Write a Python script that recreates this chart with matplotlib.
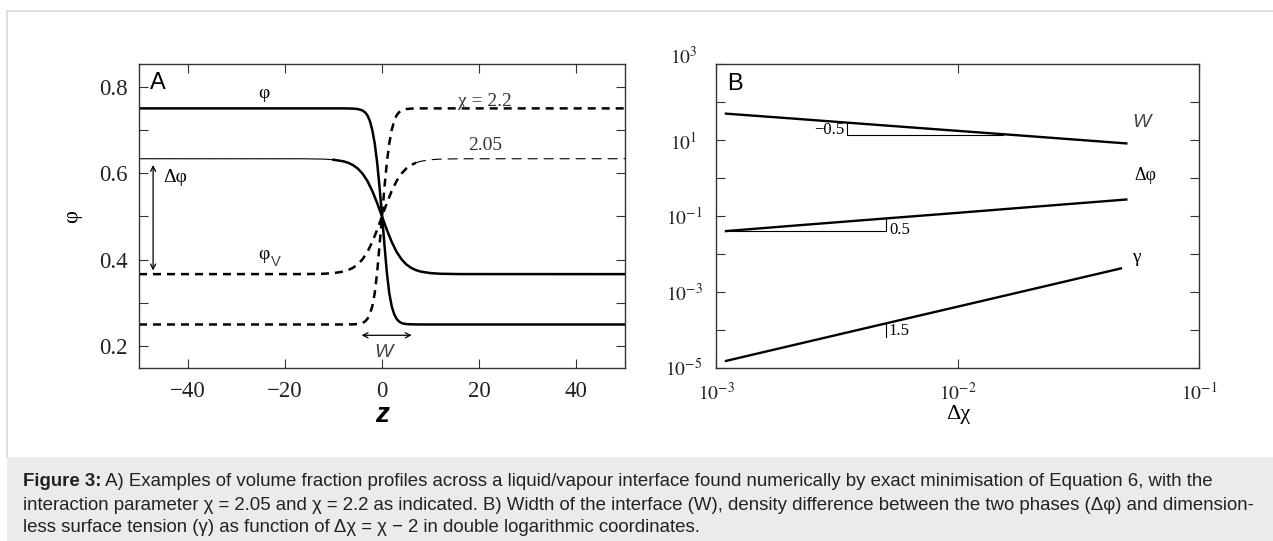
import matplotlib
matplotlib.use('Agg')
import matplotlib.pyplot as plt
from matplotlib.patches import Rectangle
from matplotlib.lines import Line2D
from matplotlib.ticker import FixedLocator, NullLocator
import matplotlib.transforms as mtransforms

plt.rcParams['mathtext.fontset'] = 'stix'
plt.rcParams['font.family'] = ['Liberation Serif', 'DejaVu Serif']

# ---------------- Panel A data ----------------
z_22 = [-50, -8, -6, -5, -4.5, -4, -3.5, -3, -2.5, -2, -1.5, -1, -0.5, 0,
        0.5, 1, 1.5, 2, 2.5, 3, 3.5, 4, 4.5, 5, 6, 8, 50]
phi_22_solid = [0.750, 0.750, 0.7495, 0.7485, 0.747, 0.745, 0.741, 0.734, 0.721,
                0.700, 0.669, 0.625, 0.567, 0.503, 0.435, 0.370, 0.322, 0.292,
                0.274, 0.263, 0.257, 0.2535, 0.2518, 0.251, 0.2503, 0.250, 0.250]
phi_22_dashed = [0.250, 0.250, 0.2503, 0.251, 0.2518, 0.2535, 0.257, 0.263, 0.274,
                 0.292, 0.322, 0.370, 0.435, 0.497, 0.567, 0.625, 0.669, 0.700,
                 0.721, 0.734, 0.741, 0.745, 0.747, 0.7485, 0.7495, 0.750, 0.750]

z_205 = [-50, -16, -12, -10, -8, -7, -6, -5, -4, -3, -2, -1, 0,
         1, 2, 3, 4, 5, 6, 7, 8, 10, 12, 16, 50]
phi_205_solid = [0.6335, 0.6334, 0.6326, 0.6312, 0.6277, 0.6243, 0.619, 0.611,
                 0.599, 0.582, 0.559, 0.531, 0.500, 0.469, 0.441, 0.418, 0.401,
                 0.389, 0.381, 0.3757, 0.3723, 0.3688, 0.3674, 0.3666, 0.3665]
phi_205_dashed = [0.3665, 0.3666, 0.3674, 0.3688, 0.3723, 0.3757, 0.381, 0.389,
                  0.401, 0.418, 0.441, 0.469, 0.500, 0.531, 0.559, 0.582, 0.599,
                  0.611, 0.619, 0.6243, 0.6277, 0.6312, 0.6326, 0.6334, 0.6335]

xticks_A = [-40, -20, 0, 20, 40]
xticklabels_A = ['\u221240', '\u221220', '0', '20', '40']
yticks_A = [0.2, 0.3, 0.4, 0.5, 0.6, 0.7, 0.8]
yticklabels_A = ['0.2', '', '0.4', '', '0.6', '', '0.8']

# ---------------- Panel B data ----------------
dchi = [0.0011, 0.002, 0.005, 0.01, 0.02, 0.05]
W_vals = [50, 37.8, 24.4, 17.6, 12.7, 8.2]
dphi_vals = [0.040, 0.0543, 0.0859, 0.121, 0.172, 0.272]
dchi_gamma = [0.0011, 0.002, 0.005, 0.01, 0.02, 0.0475]
gamma_vals = [1.51e-5, 3.69e-5, 1.45e-4, 4.06e-4, 1.14e-3, 4.15e-3]

xticks_B = [1e-3, 1e-2, 1e-1]
xticklabels_B = [r'$10^{-3}$', r'$10^{-2}$', r'$10^{-1}$']
yticks_B = [1e-5, 1e-4, 1e-3, 1e-2, 1e-1, 1e0, 1e1, 1e2, 1e3]
yticklabels_B = [r'$10^{-5}$', '', r'$10^{-3}$', '', r'$10^{-1}$', '', r'$10^{1}$', '', r'$10^{3}$']

caption_bold = 'Figure 3:'
caption_lines = [
    ' A) Examples of volume fraction profiles across a liquid/vapour interface found numerically by exact minimisation of Equation 6, with the',
    'interaction parameter \u03c7 = 2.05 and \u03c7 = 2.2 as indicated. B) Width of the interface (W), density difference between the two phases (\u0394\u03c6) and dimension-',
    'less surface tension (\u03b3) as function of \u0394\u03c7 = \u03c7 \u2212 2 in double logarithmic coordinates.',
]

# ---------------- Figure ----------------
W_PX, H_PX = 1273, 541
fig = plt.figure(figsize=(W_PX / 100, H_PX / 100), dpi=100)
fig.patch.set_facecolor('white')

def fx(px):
    return px / W_PX

def fy(py):
    return 1 - py / H_PX

# caption box and frame
fig.add_artist(Rectangle((fx(7), 0), 1 - fx(7), fy(457), transform=fig.transFigure,
                         facecolor='#ebebeb', edgecolor='none', zorder=0))
fig.add_artist(Line2D([fx(7), 1], [fy(11), fy(11)], transform=fig.transFigure,
                      color='#d9d9d9', lw=1.2))
fig.add_artist(Line2D([fx(7), fx(7)], [fy(11), fy(457)], transform=fig.transFigure,
                      color='#d9d9d9', lw=1.2))

spine_col = '#333333'
axA = fig.add_axes([fx(139), fy(367.7), fx(625) - fx(139), fy(64.3) - fy(367.7)])
axB = fig.add_axes([fx(716), fy(367.7), fx(1199) - fx(716), fy(64.3) - fy(367.7)])

for ax in (axA, axB):
    for s in ax.spines.values():
        s.set_color(spine_col)
        s.set_linewidth(1.0)
    ax.tick_params(which='both', direction='in', top=True, right=True,
                   length=6.5, width=0.8, color=spine_col)
    ax.set_facecolor('none')

# ---- Panel A ----
thick, thin = 1.8, 0.8
axA.plot(z_22, phi_22_solid, color='k', lw=thick, solid_capstyle='butt')
axA.plot(z_22, phi_22_dashed, color='k', lw=thick, linestyle=(0, (3.2, 2.4)))
# chi = 2.05 solid: thin plateau on left, thick from z = -10 on
k1 = z_205.index(-10)
axA.plot(z_205[:k1 + 1], phi_205_solid[:k1 + 1], color='k', lw=thin)
axA.plot(z_205[k1:], phi_205_solid[k1:], color='k', lw=thick)
# chi = 2.05 dashed: thick up to z = 7, thin plateau on right
k2 = z_205.index(7)
axA.plot(z_205[:k2 + 1], phi_205_dashed[:k2 + 1], color='k', lw=thick,
         linestyle=(0, (3.2, 2.4)))
axA.plot(z_205[k2:], phi_205_dashed[k2:], color='k', lw=thin,
         linestyle=(0, (9, 5.4)))

axA.set_xlim(-50, 50)
axA.set_ylim(0.15, 0.852)
axA.xaxis.set_major_locator(FixedLocator(xticks_A))
axA.set_xticklabels(xticklabels_A)
axA.yaxis.set_major_locator(FixedLocator(yticks_A))
axA.set_yticklabels(yticklabels_A)
axA.tick_params(axis='both', labelsize=16.5, colors=spine_col, labelcolor='#222222')
axA.tick_params(axis='x', pad=9.5)
axA.tick_params(axis='y', pad=8)

arrowkw = dict(arrowstyle='<->', lw=0.9, color='k', mutation_scale=9,
               shrinkA=0, shrinkB=0)
axA.annotate('', xy=(-47.1, 0.375), xytext=(-47.1, 0.619), arrowprops=arrowkw)
axA.annotate('', xy=(-4.2, 0.225), xytext=(6.1, 0.225), arrowprops=arrowkw)

axA.text(-47.7, 0.809, 'A', family='Liberation Sans', fontsize=17, ha='left', va='center')
axA.text(-24.3, 0.785, '\u03c6', fontsize=14, ha='center', va='center')
axA.text(21.2, 0.766, '\u03c7 = 2.2', fontsize=14, ha='center', va='center', color='#333333')
axA.text(21.2, 0.665, '2.05', fontsize=14, ha='center', va='center', color='#333333')
axA.text(-45.0, 0.589, '\u0394\u03c6', fontsize=14, ha='left', va='center')
axA.text(-24.3, 0.4125, '\u03c6', fontsize=14, ha='center', va='center')
axA.text(-21.8, 0.3939, 'V', family='Liberation Sans', fontsize=10.5, ha='center',
         va='center', color='#444444')
axA.text(0.4, 0.186, 'W', family='Liberation Sans', style='italic', fontsize=14,
         ha='center', va='center', color='#444444')

fig.text(fx(73), fy(217), '\u03c6', fontsize=16, rotation=90, ha='center', va='center')
fig.text(fx(382), fy(415), 'z', family='Liberation Sans', weight='bold', style='italic',
         fontsize=20, ha='center', va='center')

# ---- Panel B ----
axB.set_xscale('log')
axB.set_yscale('log')
axB.plot(dchi, W_vals, color='k', lw=1.7)
axB.plot(dchi, dphi_vals, color='k', lw=1.7)
axB.plot(dchi_gamma, gamma_vals, color='k', lw=1.7)

# slope triangles
tri = dict(color='k', lw=0.8)
axB.plot([0.0035, 0.0035, 0.0155], [29.0, 14.0, 14.0], **tri)
axB.plot([0.00115, 0.00505, 0.00505], [0.040, 0.040, 0.0853], **tri)
axB.plot([0.00505, 0.00505], [1.45e-4, 6.5e-5], **tri)
axB.text(0.0034, 19, '\u22120.5', fontsize=12, ha='right', va='center')
axB.text(0.0052, 0.0436, '0.5', fontsize=12, ha='left', va='center')
axB.text(0.0052, 9.1e-5, '1.5', fontsize=12, ha='left', va='center')

axB.text(0.058, 30, 'W', family='Liberation Sans', style='italic', fontsize=14,
         ha='center', va='center', color='#444444')
axB.text(0.0597, 1.2, '\u0394\u03c6', fontsize=13, ha='center', va='center')
axB.text(0.0552, 0.0079, '\u03b3', fontsize=14, ha='center', va='center')
axB.text(0.00111, 3.0e2, 'B', family='Liberation Sans', fontsize=17, ha='left', va='center')

axB.set_xlim(1e-3, 1e-1)
axB.set_ylim(1e-5, 1e3)
axB.xaxis.set_major_locator(FixedLocator(xticks_B))
axB.xaxis.set_minor_locator(NullLocator())
axB.set_xticklabels(xticklabels_B)
axB.yaxis.set_major_locator(FixedLocator(yticks_B))
axB.yaxis.set_minor_locator(NullLocator())
axB.set_yticklabels(yticklabels_B)
axB.tick_params(axis='both', labelsize=14, colors=spine_col, labelcolor='#222222')
axB.tick_params(axis='x', pad=10)
axB.tick_params(axis='y', pad=23)
ylbls = axB.get_yticklabels()
for lbl in ylbls:
    lbl.set_ha('center')
# top label is drawn raised above its tick in the original
raise_off = mtransforms.ScaledTranslation(0, 7 / 72, fig.dpi_scale_trans)
ylbls[-1].set_transform(ylbls[-1].get_transform() + raise_off)

fig.text(fx(958), fy(414), '\u0394\u03c7', fontsize=16, ha='center', va='center')

# ---- caption ----
cap_fs = 13.45
cap_y = [481.7, 505, 528]
tb = fig.text(fx(22.7), fy(cap_y[0]), caption_bold, family='Liberation Sans',
              weight='bold', fontsize=cap_fs, ha='left', va='center', color='#222222')
fig.canvas.draw()
bb = tb.get_window_extent()
fig.text(bb.x1 / W_PX, fy(cap_y[0]), caption_lines[0], family='Liberation Sans',
         fontsize=cap_fs, ha='left', va='center', color='#222222')
for i in (1, 2):
    fig.text(fx(22.7), fy(cap_y[i]), caption_lines[i], family='Liberation Sans',
             fontsize=cap_fs, ha='left', va='center', color='#222222')

fig.savefig('out.png', dpi=100)
